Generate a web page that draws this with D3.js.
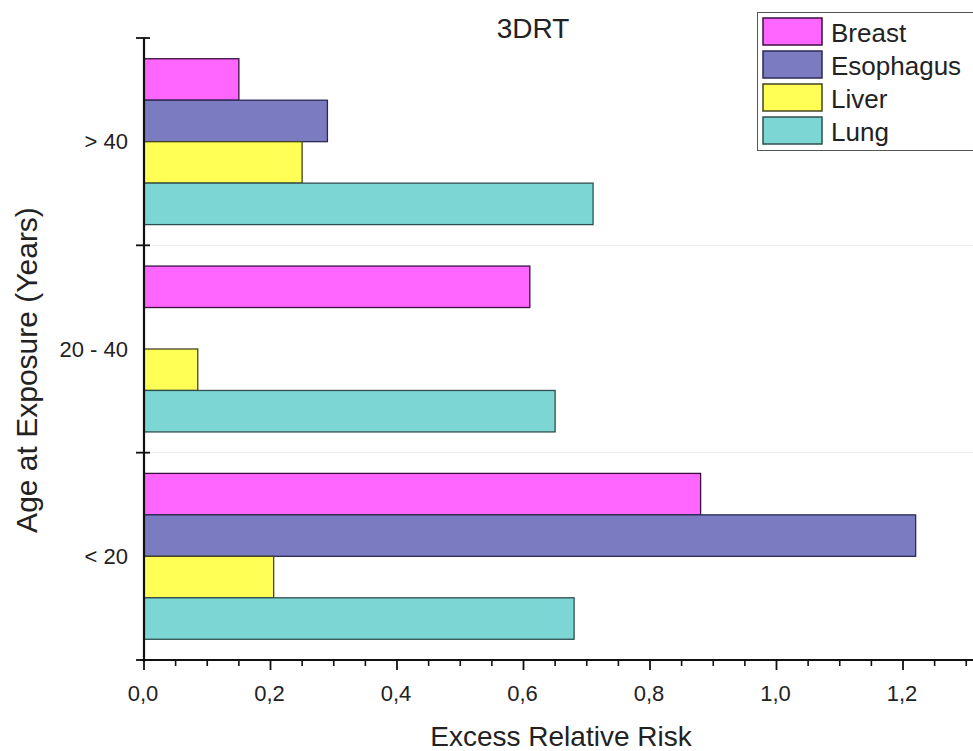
<!DOCTYPE html>
<html><head><meta charset="utf-8">
<script src="https://cdn.jsdelivr.net/npm/d3@7"></script>
<style>body{margin:0;background:#fff}svg{display:block}text{font-family:"Liberation Sans",Arial,sans-serif;fill:#222}</style>
</head><body>
<script>
const categories = ["> 40", "20 - 40", "< 20"];
const seriesNames = ["Breast", "Esophagus", "Liver", "Lung"];
const breast = [0.15, 0.61, 0.88];
const esophagus = [0.29, 0, 1.22];
const liver = [0.25, 0.085, 0.205];
const lung = [0.71, 0.65, 0.68];
const colors = ["#ff66ff", "#7b7bc1", "#ffff55", "#7cd6d3"];
const strokes = ["#3a1040", "#2a2a55", "#444422", "#2f4f4f"];
const xTicks = [0, 0.2, 0.4, 0.6, 0.8, 1.0, 1.2];
const seriesVals = [breast, esophagus, liver, lung];

const W = 973, H = 751;
const svg = d3.select("body").append("svg").attr("width", W).attr("height", H);

const x = d3.scaleLinear().domain([0, 1.3]).range([144, 966.25]);
const y = d3.scaleBand().domain(categories).range([38, 660]).padding(0);
const ys = d3.scaleBand().domain(seriesNames).range([0, y.bandwidth()]).paddingInner(0).paddingOuter(0.5);

// faint separators
svg.append("g").selectAll("line").data(categories.slice(1)).join("line")
  .attr("x1", 144).attr("x2", W).attr("y1", d => y(d)).attr("y2", d => y(d))
  .attr("stroke", "#ececec").attr("stroke-width", 1);

// bars
const gBars = svg.append("g");
seriesNames.forEach((s, si) => {
  gBars.append("g").selectAll("rect").data(categories.map((c, ci) => ({c, v: seriesVals[si][ci]})).filter(d => d.v > 0))
    .join("rect")
    .attr("x", x(0))
    .attr("y", d => y(d.c) + ys(s))
    .attr("width", d => x(d.v) - x(0))
    .attr("height", ys.bandwidth())
    .attr("fill", colors[si])
    .attr("stroke", strokes[si]).attr("stroke-width", 1.3);
});

// x axis
const xAxisG = svg.append("g").attr("transform", "translate(0,660)");
xAxisG.append("line").attr("x1", 140).attr("x2", W).attr("y1", 0).attr("y2", 0).attr("stroke", "#111").attr("stroke-width", 2.2);
const minor = d3.range(0, 1.31, 0.05).filter(v => !xTicks.some(t => Math.abs(t - v) < 1e-6));
xAxisG.selectAll(".minor").data(minor).join("line")
  .attr("x1", d => x(d)).attr("x2", d => x(d)).attr("y1", 0).attr("y2", 6)
  .attr("stroke", "#111").attr("stroke-width", 1.6);
xAxisG.selectAll(".major").data(xTicks).join("line")
  .attr("x1", d => x(d)).attr("x2", d => x(d)).attr("y1", 0).attr("y2", 10)
  .attr("stroke", "#111").attr("stroke-width", 1.8);
xAxisG.selectAll("text").data(xTicks).join("text")
  .attr("x", d => x(d) - 1).attr("y", 41).attr("text-anchor", "middle")
  .attr("font-size", 22).text(d => d.toFixed(1).replace(".", ","));

// y axis
const yAxisG = svg.append("g");
yAxisG.append("line").attr("x1", 144).attr("x2", 144).attr("y1", 38).attr("y2", 662).attr("stroke", "#111").attr("stroke-width", 2.2);
const yTickPos = categories.map(c => y(c)).concat([y.range()[1]]);
yAxisG.selectAll(".yt").data(yTickPos).join("line")
  .attr("x1", 136).attr("x2", 150).attr("y1", d => d).attr("y2", d => d)
  .attr("stroke", "#111").attr("stroke-width", 1.8);
yAxisG.selectAll("text").data(categories).join("text")
  .attr("x", 128).attr("y", d => y(d) + y.bandwidth() / 2 + 7.5).attr("text-anchor", "end")
  .attr("font-size", 22).text(d => d);

// titles
svg.append("text").attr("x", 561).attr("y", 746).attr("text-anchor", "middle").attr("font-size", 28).text("Excess Relative Risk");
svg.append("text").attr("transform", "translate(37,370) rotate(-90)").attr("text-anchor", "middle").attr("font-size", 30).text("Age at Exposure (Years)");
svg.append("text").attr("x", 533).attr("y", 38).attr("text-anchor", "middle").attr("font-size", 28).text("3DRT");

// legend
const lg = svg.append("g");
lg.append("rect").attr("x", 757.5).attr("y", 12.5).attr("width", 230).attr("height", 138).attr("fill", "#fff").attr("stroke", "#555").attr("stroke-width", 1);
seriesNames.forEach((s, i) => {
  lg.append("rect").attr("x", 763).attr("y", 18 + i * 33).attr("width", 59).attr("height", 27)
    .attr("fill", colors[i]).attr("stroke", strokes[i]).attr("stroke-width", 1.5);
  lg.append("text").attr("x", 831).attr("y", 42 + i * 33).attr("font-size", 26).text(s);
});
</script>
</body></html>
